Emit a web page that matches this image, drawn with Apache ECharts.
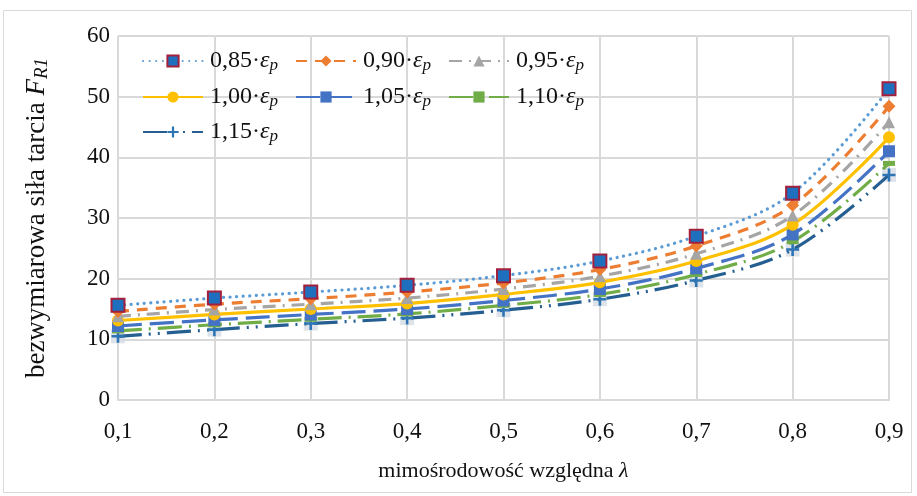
<!DOCTYPE html>
<html>
<head>
<meta charset="utf-8">
<script src="https://cdn.jsdelivr.net/npm/echarts@6/dist/echarts.min.js"></script>
<style>html,body{margin:0;padding:0;background:#fff}#c{width:917px;height:496px}</style>
</head>
<body>
<div id="c"></div>
<script>
const categories = ['0,1','0,2','0,3','0,4','0,5','0,6','0,7','0,8','0,9'];
const yTicks = [0,10,20,30,40,50,60];
const seriesNames = ['0,85','0,90','0,95','1,00','1,05','1,10','1,15'];
const s085 = [15.6, 16.8, 17.8, 18.9, 20.5, 22.9, 27.0, 34.1, 51.3];
const s090 = [14.6, 15.8, 16.7, 17.8, 19.3, 21.5, 25.4, 32.1, 48.4];
const s095 = [13.8, 14.9, 15.8, 16.8, 18.3, 20.4, 24.1, 30.4, 45.8];
const s100 = [13.1, 14.1, 15.0, 15.9, 17.4, 19.4, 22.9, 28.9, 43.3];
const s105 = [12.2, 13.2, 14.1, 15.0, 16.4, 18.3, 21.7, 27.3, 41.0];
const s110 = [11.4, 12.4, 13.3, 14.2, 15.6, 17.4, 20.7, 26.1, 39.0];
const s115 = [10.5, 11.6, 12.6, 13.5, 14.8, 16.6, 19.7, 24.8, 37.1];

const serif = 'Liberation Serif';
const ink = '#111';
const plusPath = 'path://M4,0H6V4H10V6H6V10H4V6H0V4H4Z';
const dashPath = 'path://M0,0H10V3H0Z';

function mk(name, data, color, type, symbol, size, itemStyle, z){
  const dotted = Array.isArray(type) && type[0] < 1;
  return {
    name: name, type: 'line', data: data, smooth: 0.35,
    symbol: symbol, symbolSize: size, z: z,
    lineStyle: {color: color, width: 3.2, type: type, cap: dotted ? 'round' : 'butt'},
    itemStyle: Object.assign({color: color}, itemStyle || {})
  };
}

const series = [
  mk(seriesNames[0], s085, '#5B9BD5', [0.1, 6.5], 'rect', 13, {color:'#1F6FBF', borderColor:'#A3203C', borderWidth:2}, 10),
  mk(seriesNames[1], s090, '#ED7D31', [11, 8], 'diamond', 13, null, 9),
  mk(seriesNames[2], s095, '#A5A5A5', [13, 7, 2, 7], 'triangle', 12, null, 8),
  mk(seriesNames[3], s100, '#FFC000', 'solid', 'circle', 12, null, 7),
  mk(seriesNames[4], s105, '#4472C4', [24, 8], 'rect', 12, null, 6),
  mk(seriesNames[5], s110, '#70AD47', [24, 7, 2, 7], dashPath, [12, 5], null, 5),
  mk(seriesNames[6], s115, '#255E91', [24, 7, 2, 7, 2, 7], plusPath, 13, {color:'#2E75B6'}, 4),
  {
    name: 'bg115', type: 'scatter', data: s115, symbol: 'rect', symbolSize: 14, z: 3,
    itemStyle: {color: '#D6DCE4'}, silent: true
  }
];

const legendRich = {
  n: {fontFamily: serif, fontSize: 24, color: ink},
  e: {fontFamily: serif, fontSize: 24, fontStyle: 'italic', color: ink},
  p: {fontFamily: serif, fontSize: 17, fontStyle: 'italic', color: ink, verticalAlign: 'bottom', padding: [10, 0, 0, 0]}
};
const legendCols = [142, 295, 448];
const legendRows = [49, 85, 120];
const legends = seriesNames.map((n, i) => ({
  data: [n], left: legendCols[i % 3], top: legendRows[Math.floor(i / 3)],
  itemWidth: 60, itemHeight: 14, padding: 0,
  formatter: s => '{n|' + s + '·}{e|ε}{p|p}',
  textStyle: {rich: legendRich, fontFamily: serif, fontSize: 24, padding: [0, 0, 0, 2]}
}));

const chart = echarts.init(document.getElementById('c'), null, {renderer: 'canvas'});
chart.setOption({
  animation: false,
  backgroundColor: '#fff',
  graphic: [{type: 'rect', shape: {x: 3.5, y: 10.5, width: 908, height: 482}, style: {fill: 'none', stroke: '#D9D9D9', lineWidth: 1}, z: -1}],
  grid: {left: 118, right: 28, top: 36, bottom: 96},
  legend: legends,
  xAxis: {
    type: 'category', data: categories, boundaryGap: false,
    axisLine: {lineStyle: {color: '#D9D9D9', width: 2}},
    axisTick: {show: false},
    splitLine: {show: true, lineStyle: {color: '#D9D9D9', width: 2}},
    axisLabel: {fontFamily: serif, fontSize: 23, color: ink, margin: 20},
    name: '{t|mimośrodowość względna }{i|λ}', nameLocation: 'middle', nameGap: 60,
    nameTextStyle: {rich: {t: {fontFamily: serif, fontSize: 22, color: ink}, i: {fontFamily: serif, fontSize: 22, fontStyle: 'italic', color: ink}}}
  },
  yAxis: {
    type: 'value', min: yTicks[0], max: yTicks[yTicks.length - 1], interval: 10,
    axisLine: {show: false}, axisTick: {show: false},
    splitLine: {lineStyle: {color: '#D9D9D9', width: 2}},
    axisLabel: {fontFamily: serif, fontSize: 23, color: ink, margin: 8},
    name: '{t|bezwymiarowa siła tarcia }{i|F}{s|R1}', nameLocation: 'middle', nameGap: 67,
    nameTextStyle: {rich: {
      t: {fontFamily: serif, fontSize: 27, color: ink},
      i: {fontFamily: serif, fontSize: 27, fontStyle: 'italic', color: ink},
      s: {fontFamily: serif, fontSize: 19, fontStyle: 'italic', color: ink, verticalAlign: 'bottom', padding: [10, 0, 0, 0]}
    }}
  },
  series: series
});
</script>
</body>
</html>
